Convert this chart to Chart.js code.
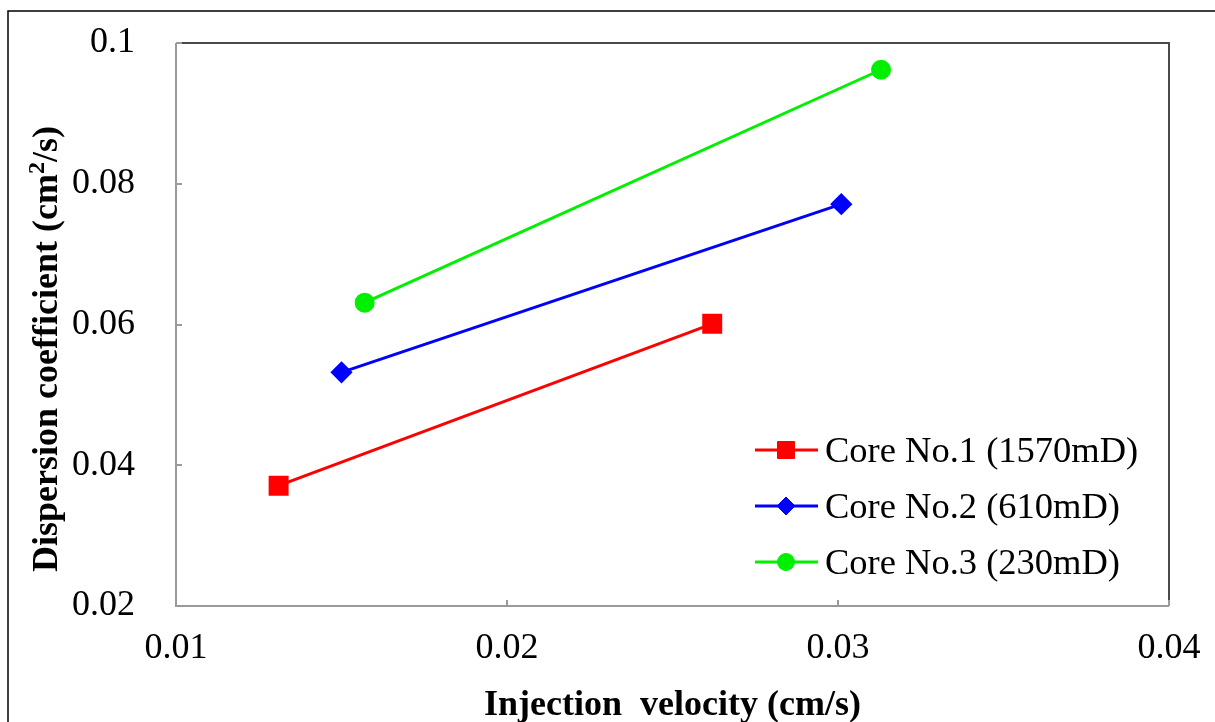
<!DOCTYPE html>
<html>
<head>
<meta charset="utf-8">
<script src="https://cdn.jsdelivr.net/npm/chart.js@4.4.0/dist/chart.umd.min.js"></script>
<style>
  html, body { margin: 0; padding: 0; background: #fff; }
</style>
</head>
<body>
<canvas id="myChart" width="1215" height="722"></canvas>
<script>
const seriesNames = ["Core No.1 (1570mD)", "Core No.2 (610mD)", "Core No.3 (230mD)"];
const core1X = [0.0131, 0.0262];
const core1Y = [0.0371, 0.0601];
const core2X = [0.0150, 0.0301];
const core2Y = [0.0532, 0.0771];
const core3X = [0.0157, 0.0313];
const core3Y = [0.0631, 0.0962];
const xTicks = [0.01, 0.02, 0.03, 0.04];
const xTickLabels = ["0.01", "0.02", "0.03", "0.04"];
const yTicks = [0.02, 0.04, 0.06, 0.08, 0.1];
const yTickLabels = ["0.02", "0.04", "0.06", "0.08", "0.1"];

const serif = "'Liberation Serif', 'Times New Roman', serif";

function points(xs, ys) {
    return xs.map((x, i) => ({ x: x, y: ys[i] }));
}

// frame, plot border, inward tick marks, y title with superscript, legend
const decorations = {
    id: "decorations",
    afterDraw(chart) {
        const ctx = chart.ctx;
        const a = chart.chartArea;
        const xs = chart.scales.x;
        const ys = chart.scales.y;
        ctx.save();

        // outer frame
        ctx.strokeStyle = "#000";
        ctx.lineWidth = 1.5;
        ctx.beginPath();
        ctx.moveTo(8, 722);
        ctx.lineTo(8, 11);
        ctx.lineTo(1215, 11);
        ctx.stroke();

        // plot border
        ctx.lineWidth = 2;
        ctx.strokeStyle = "#9a9a9a";
        ctx.beginPath();
        ctx.moveTo(a.right, a.bottom);
        ctx.lineTo(a.left, a.bottom);
        ctx.lineTo(a.left, a.top);
        ctx.stroke();
        ctx.strokeStyle = "#4a4a4a";
        ctx.beginPath();
        ctx.moveTo(a.left, a.top);
        ctx.lineTo(a.right, a.top);
        ctx.lineTo(a.right, a.bottom);
        ctx.stroke();

        // inward ticks
        ctx.strokeStyle = "#9a9a9a";
        ctx.beginPath();
        xTicks.forEach(v => {
            const px = Math.round(xs.getPixelForValue(v));
            ctx.moveTo(px, a.bottom);
            ctx.lineTo(px, a.bottom - 6);
        });
        yTicks.forEach(v => {
            const py = Math.round(ys.getPixelForValue(v));
            ctx.moveTo(a.left, py);
            ctx.lineTo(a.left + 6, py);
        });
        ctx.stroke();

        // y axis title
        const t1 = "Dispersion coefficient (cm";
        const sup = "2";
        const t2 = "/s)";
        ctx.fillStyle = "#000";
        ctx.textBaseline = "alphabetic";
        ctx.textAlign = "left";
        ctx.font = "bold 36px " + serif;
        const w1 = ctx.measureText(t1).width;
        const w3 = ctx.measureText(t2).width;
        ctx.font = "bold 24px " + serif;
        const w2 = ctx.measureText(sup).width;
        const total = w1 + w2 + w3;
        ctx.translate(57, 349);
        ctx.rotate(-Math.PI / 2);
        let x0 = -total / 2;
        ctx.font = "bold 36px " + serif;
        ctx.fillText(t1, x0, 0);
        ctx.font = "bold 24px " + serif;
        ctx.fillText(sup, x0 + w1, -13);
        ctx.font = "bold 36px " + serif;
        ctx.fillText(t2, x0 + w1 + w2, 0);
        ctx.setTransform(1, 0, 0, 1, 0, 0);

        // legend
        const rows = [450, 506, 562];
        chart.data.datasets.forEach((ds, i) => {
            const y = rows[i];
            ctx.strokeStyle = ds.borderColor;
            ctx.lineWidth = 3;
            ctx.beginPath();
            ctx.moveTo(755, y);
            ctx.lineTo(818, y);
            ctx.stroke();
            ctx.fillStyle = ds.pointBackgroundColor;
            ctx.strokeStyle = ds.pointBorderColor;
            ctx.lineWidth = 1;
            Chart.helpers.drawPoint(ctx, {
                pointStyle: ds.pointStyle,
                radius: ds.pointRadius,
                rotation: 0,
                borderWidth: 1
            }, 786, y);
            ctx.fillStyle = "#000";
            ctx.font = "36.5px " + serif;
            ctx.textAlign = "left";
            ctx.textBaseline = "alphabetic";
            ctx.fillText(ds.label, 825, y + 12);
        });
        ctx.restore();
    }
};

const ctx = document.getElementById("myChart");
const data = {
    datasets: [
        {
            label: seriesNames[0],
            data: points(core1X, core1Y),
            borderColor: "#ff0000",
            backgroundColor: "#ff0000",
            pointBackgroundColor: "#ff0000",
            pointBorderColor: "#ff0000",
            pointStyle: "rect",
            pointRadius: 12,
            borderWidth: 3,
        },
        {
            label: seriesNames[1],
            data: points(core2X, core2Y),
            borderColor: "#0000ff",
            backgroundColor: "#0000ff",
            pointBackgroundColor: "#0000ff",
            pointBorderColor: "#0000ff",
            pointStyle: "rectRot",
            pointRadius: 9,
            borderWidth: 3,
        },
        {
            label: seriesNames[2],
            data: points(core3X, core3Y),
            borderColor: "#00f000",
            backgroundColor: "#00f000",
            pointBackgroundColor: "#00f000",
            pointBorderColor: "#00f000",
            pointStyle: "circle",
            pointRadius: 8.5,
            borderWidth: 3,
        },
    ],
};

const config = {
    type: "scatter",
    data: data,
    options: {
        responsive: false,
        devicePixelRatio: 1,
        animation: false,
        showLine: true,
        layout: {
            padding: { top: 43, right: 46, left: 0, bottom: 0 },
        },
        plugins: {
            legend: { display: false },
            tooltip: { enabled: false },
        },
        scales: {
            x: {
                type: "linear",
                min: 0.01,
                max: 0.04,
                grid: { display: false },
                border: { display: false },
                afterFit: (s) => {
                    s.height = 116;
                    s.paddingLeft = 0;
                    s.paddingRight = 0;
                },
                afterBuildTicks: (s) => { s.ticks = xTicks.map(v => ({ value: v })); },
                ticks: {
                    color: "#000",
                    font: { family: serif, size: 36 },
                    padding: 13,
                    maxRotation: 0,
                    callback: (v) => xTickLabels[xTicks.indexOf(v)],
                },
                title: {
                    display: true,
                    text: "Injection  velocity (cm/s)",
                    color: "#000",
                    font: { family: serif, size: 36, weight: "bold" },
                    padding: { top: 0, bottom: -5 },
                },
            },
            y: {
                type: "linear",
                min: 0.02,
                max: 0.1,
                grid: { display: false },
                border: { display: false },
                afterFit: (s) => {
                    s.width = 176;
                    s.paddingTop = 0;
                    s.paddingBottom = 0;
                },
                afterBuildTicks: (s) => { s.ticks = yTicks.map(v => ({ value: v })); },
                ticks: {
                    color: "#000",
                    font: { family: serif, size: 36 },
                    padding: 33,
                    callback: (v) => yTickLabels[yTicks.indexOf(v)],
                },
            },
        },
    },
    plugins: [decorations],
};

const myChart = new Chart(ctx, config);
</script>
</body>
</html>
